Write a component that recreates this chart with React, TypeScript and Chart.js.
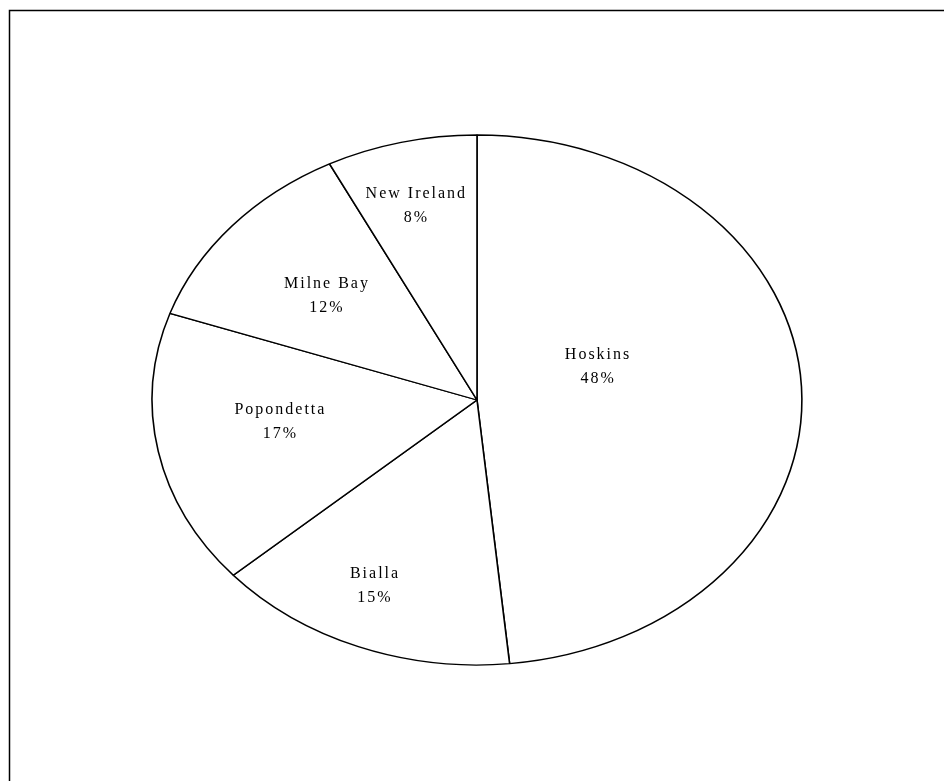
import React, { useEffect, useRef } from "react";
import { Chart, registerables } from "chart.js";

Chart.register(...registerables);

const categories = ["Hoskins", "Bialla", "Popondetta", "Milne Bay", "New Ireland"];
// shares read from the slice boundaries (labels show the rounded values)
const shares = [48.4, 15.1, 16.8, 12.2, 7.5];
const percentLabels = ["48%", "15%", "17%", "12%", "8%"];

// label placement: radial fraction and small pixel nudges per slice
const labelFractions = [0.37, 0.75, 0.62, 0.6, 0.76];
const labelNudgeX = [1, -13, 1, -3, -3];
const labelNudgeY = [-28, 1, -10, 0, 2];

const SX = 1.226; // horizontal stretch to make the pie elliptical

const ellipsePlugin = {
  id: "ellipse",
  beforeDraw(chart: any) {
    const ctx = chart.ctx;
    ctx.save();
    ctx.fillStyle = "#ffffff";
    ctx.fillRect(0, 0, chart.width, chart.height);
    ctx.strokeStyle = "#000000";
    ctx.lineWidth = 1.5;
    ctx.beginPath();
    ctx.moveTo(9.5, chart.height);
    ctx.lineTo(9.5, 10.5);
    ctx.lineTo(chart.width, 10.5);
    ctx.stroke();
    ctx.restore();
  },
  beforeDatasetsDraw(chart: any) {
    const arc = chart.getDatasetMeta(0).data[0];
    const cx = arc.x;
    const cy = arc.y;
    const ctx = chart.ctx;
    ctx.save();
    ctx.translate(cx, cy);
    ctx.scale(SX, 1);
    ctx.translate(-cx, -cy);
  },
  afterDatasetsDraw(chart: any) {
    const ctx = chart.ctx;
    ctx.restore();
    const meta = chart.getDatasetMeta(0);
    ctx.save();
    ctx.fillStyle = "#000000";
    ctx.font = "16px 'Liberation Serif', 'Times New Roman', serif";
    (ctx as any).letterSpacing = "2px";
    ctx.textAlign = "center";
    ctx.textBaseline = "middle";
    meta.data.forEach((el: any, i: number) => {
      const a = (el.startAngle + el.endAngle) / 2;
      const r = el.outerRadius * labelFractions[i];
      const x = el.x + Math.cos(a) * r * SX + labelNudgeX[i];
      const y = el.y + Math.sin(a) * r + labelNudgeY[i];
      ctx.fillText(categories[i], x, y - 12);
      ctx.fillText(percentLabels[i], x, y + 12);
    });
    ctx.restore();
  },
};

export default function App() {
  const ref = useRef<HTMLCanvasElement>(null);
  useEffect(() => {
    if (!ref.current) return;
    const chart = new Chart(ref.current, {
      type: "pie",
      data: {
        labels: categories,
        datasets: [
          {
            data: shares,
            backgroundColor: "#ffffff",
            borderColor: "#000000",
            borderWidth: 1.3,
            borderAlign: "center",
            clip: false as any,
          },
        ],
      },
      options: {
        animation: false,
        responsive: false,
        devicePixelRatio: 1,
        radius: 265,
        layout: { padding: { left: 212, right: 202, top: 135, bottom: 116 } },
        plugins: {
          legend: { display: false },
          tooltip: { enabled: false },
        },
      } as any,
      plugins: [ellipsePlugin],
    });
    return () => chart.destroy();
  }, []);
  return (
    <div style={{ position: "fixed", left: 0, top: 0, width: 944, height: 781, background: "#fff" }}>
      <canvas ref={ref} width={944} height={781} style={{ width: 944, height: 781, display: "block" }} />
    </div>
  );
}
